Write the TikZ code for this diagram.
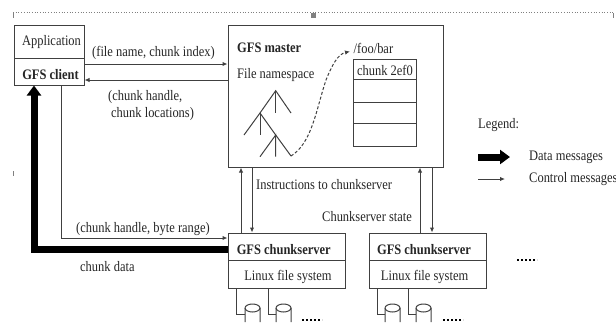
\documentclass[tikz,border=0pt]{standalone}
\usepackage{fontspec}
\setmainfont[FakeStretch=0.86]{Liberation Serif}
\usetikzlibrary{arrows.meta,calc}
\definecolor{ink}{gray}{0.25}
\definecolor{txt}{gray}{0.15}
\tikzset{
  x=1pt,y=-1pt,
  box/.style={draw=ink,line width=1pt,inner sep=0pt},
  lbl/.style={inner sep=0pt,anchor=west,text=txt,font=\fontsize{14.5}{15}\selectfont},
  ctr/.style={lbl,anchor=center},
  ctl/.style={draw=ink,line width=1pt,-{Latex[length=5pt,width=4.5pt]}},
  plainline/.style={draw=ink,line width=1pt},
  dataline/.style={draw=black,line width=7pt,-{Triangle[length=10pt,width=14pt]}},
  dotframe/.style={draw=gray,line width=.7pt,dotted},
  tickmark/.style={fill=gray,draw=none},
  dotrow/.style={draw=black,line width=2pt,dash pattern=on 2pt off 2pt},
}
\newcommand{\boxat}[5]{\node[box,minimum width=#4 pt,minimum height=#5 pt] (#1) at (#2,#3) {};}
\newcommand{\disk}[4]{% name, cylinder left x, cylinder right x, source
  \draw[plainline] (#4) -- (#4 |- 0,314) -- (#2,314);
  \draw[plainline,fill=white] (#2,322) -- (#2,308) arc[start angle=180,end angle=0,x radius=7.5,y radius=-4] -- (#3,322);
  \draw[plainline] (#2,308) arc[start angle=180,end angle=360,x radius=7.5,y radius=-4];
}
\begin{document}
\begin{tikzpicture}
\useasboundingbox[fill=white] (0,0) rectangle (616,322);
% frame marks
\coordinate (fl) at (13,12.5);
\coordinate (fr) at (613,12.5);
\draw[dotframe] (fl) -- (fr);
\fill[tickmark] (12.6,13) rectangle (13.6,18);
\fill[tickmark] (12.6,171) rectangle (13.6,176);
\fill[tickmark] (311,13) rectangle (315.5,18);
\fill[tickmark] (612.5,13) rectangle (614,18);
% boxes
\boxat{app}{49}{41.5}{70}{33}
\boxat{client}{49}{71.5}{70}{27}
\boxat{master}{335.5}{96}{215}{142}
\boxat{csa}{286.5}{246.5}{117}{27}
\boxat{fsa}{286.5}{274}{117}{28}
\boxat{csb}{427.5}{246.5}{117}{27}
\boxat{fsb}{427.5}{274}{117}{28}
% file table
\boxat{ta}{385}{69}{62.5}{20}
\boxat{tb}{385}{90.5}{62.5}{23}
\boxat{tc}{385}{112.5}{62.5}{21}
\boxat{td}{385}{134.5}{62.5}{23}
% box texts
\node[ctr] (tapp) at (51.5,42) {Application};
\node[ctr] (tcli) at (50.5,75) {\bfseries GFS client};
\node[ctr] (tcsa) at (283.7,249.3) {\bfseries GFS chunkserver};
\node[ctr] (tfsa) at (288,277.3) {Linux file system};
\node[ctr] (tcsb) at (424,249.3) {\bfseries GFS chunkserver};
\node[ctr] (tfsb) at (424.6,277.3) {Linux file system};
\node[ctr] (tchk) at (385,70.5) {chunk 2ef0};
% labels
\node[lbl] (lfile) at (92,53) {(file name, chunk index)};
\node[lbl] (lhand) at (108,97) {(chunk handle,};
\node[lbl] (lloc) at (111,114) {chunk locations)};
\node[lbl] (lmaster) at (237,48) {\bfseries GFS master};
\node[lbl] (lns) at (237,75) {File namespace};
\node[lbl] (lfoo) at (353.5,48) {/foo/bar};
\node[lbl] (linst) at (256,185) {Instructions to chunkserver};
\node[lbl] (lstate) at (322,217) {Chunkserver state};
\node[lbl] (lrange) at (76,229) {(chunk handle, byte range)};
\node[lbl] (ldata) at (80,267) {chunk data};
\node[lbl] (lleg) at (478,125) {Legend:};
\node[lbl] (ldm) at (529,157) {Data messages};
\node[lbl] (lcm) at (529,179) {Control messages};
% connectors
\draw[ctl] ([yshift=7.5pt]client.east) -- ([yshift=32pt]master.west);
\draw[ctl] ([yshift=16pt]master.west) -- ([yshift=-8.5pt]client.east);
\draw[dataline] ([yshift=-2.5pt]csa.west) -| ([xshift=-15pt]client.south);
\draw[ctl] ([xshift=12pt]client.south) |- ([yshift=8.5pt]csa.west);
\draw[ctl] ([xshift=-45.5pt]csa.north) -- ([xshift=-45.5pt]csa.north |- master.south);
\draw[ctl] ([xshift=-34.5pt]csa.north |- master.south) -- ([xshift=-34.5pt]csa.north);
\draw[ctl] ([xshift=-7.5pt]csb.north) -- ([xshift=-7.5pt]csb.north |- master.south);
\draw[ctl] ([xshift=4.5pt]csb.north |- master.south) -- ([xshift=4.5pt]csb.north);
% tree
\coordinate (r) at (275.7,90.7);
\coordinate (n) at (260,113);
\coordinate (m) at (275.7,135);
\coordinate (e) at (291,156);
\draw[plainline] (244,135) -- (n) -- (r) -- (291,113);
\draw[plainline] (r) -- (275.7,113);
\draw[plainline] (n) -- (260,135);
\draw[plainline] (n) -- (m) -- (e);
\draw[plainline] (260,156.7) -- (m) -- (275.7,156.7);
% mapping curve
\coordinate (fooend) at (350,51.5);
\draw[ink,line width=1pt,dash pattern=on 3pt off 2pt,-{Latex[length=5pt,width=4.5pt]}]
  (e) .. controls (312,143) and (316,110) .. (326,80) .. controls (332,65) and (338,54) .. (fooend);
% disks
\coordinate (da) at (236,288);
\coordinate (db) at (268,288);
\coordinate (dc) at (377,288);
\coordinate (dd) at (408,288);
\disk{d1}{245}{260}{da}
\disk{d2}{276}{291}{db}
\disk{d3}{385}{400}{dc}
\disk{d4}{416}{431}{dd}
% dots
\draw[dotrow] (517,260) -- (537,260);
\draw[dotrow] (302,320) -- (322,320);
\draw[dotrow] (443,320) -- (463,320);
% legend arrows
\coordinate (la) at (478,157);
\coordinate (lb) at (510,157);
\coordinate (lc) at (478,179);
\coordinate (ld) at (505,179);
\draw[dataline] (la) -- (lb);
\draw[ctl] (lc) -- (ld);
\end{tikzpicture}
\end{document}
